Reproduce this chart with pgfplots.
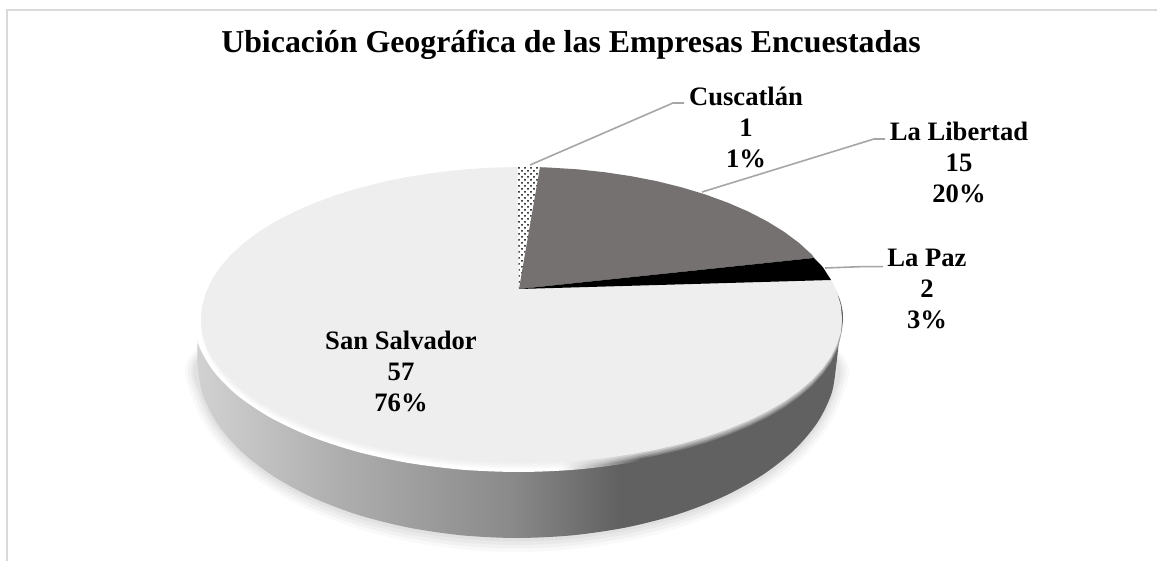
\documentclass[border=0pt]{standalone}
\usepackage{pgfplots}
\usepackage{pgfplotstable}
\usepackage{fontspec}
\setmainfont{Liberation Serif}
\pgfplotsset{compat=1.18}
\usetikzlibrary{patterns}
\pgfdeclarehorizontalshading{sidegrad}{100bp}{color(0bp)=(black!18); color(25bp)=(black!18); color(35.3bp)=(black!31); color(49.5bp)=(black!46); color(57.9bp)=(black!62); color(75bp)=(black!62); color(100bp)=(black!62)}
\pgfdeclarehorizontalshading{ringgrad}{100bp}{color(0bp)=(white); color(53.2bp)=(white); color(59.4bp)=(black!62); color(100bp)=(black!62)}
\definecolor{face}{HTML}{EEEEEE}
\definecolor{lib}{HTML}{767171}
\pgfplotstableread{
x y
198 330
197.5 363
202.4 393.4
216.8 422.9
240.3 450.5
272.3 475.5
311.6 497.1
357.2 514.6
407.7 527.4
461.5 535.3
517 538
572.5 535.3
626.3 527.4
676.8 514.6
722.4 497.1
761.7 475.5
793.7 450.5
817.2 422.9
831.6 393.4
836.5 363
840 330
}\sidetab
\pgfplotstableread{
x y
235 320
197.5 363
202.4 393.4
216.8 422.9
240.3 450.5
272.3 475.5
311.6 497.1
357.2 514.6
407.7 527.4
461.5 535.3
517 538
572.5 535.3
626.3 527.4
676.8 514.6
722.4 497.1
761.7 475.5
793.7 450.5
817.2 422.9
831.6 393.4
836.5 363
800 320
}\shadowtab
\pgfplotstableread{
x y
194 319
198.9 345.6
213.6 371.3
237.5 395.5
269.9 417.3
309.9 436.2
356.2 451.5
407.5 462.8
462.2 469.7
518.5 472
574.8 469.7
629.5 462.8
680.8 451.5
727.1 436.2
767.1 417.3
799.5 395.5
823.4 371.3
838.1 345.6
843 319
840 300
829 278
}\ringtab
\pgfplotstableread{
x y
842 319
840.8 305.7
837.1 292.6
831.1 279.7
822.7 267
812 254.8
799.1 243
784.1 231.8
767 221.3
748.1 211.5
727.5 202.6
705.3 194.5
681.8 187.4
656.9 181.2
631.1 176.2
604.4 172.2
577.1 169.3
549.4 167.6
521.5 167
493.6 167.6
465.9 169.3
438.6 172.2
411.9 176.2
386.1 181.2
361.2 187.4
337.7 194.5
315.5 202.6
294.9 211.5
276 221.3
258.9 231.8
243.9 243
231 254.8
220.3 267
211.9 279.7
205.9 292.6
202.2 305.7
201 319
202.2 331.6
205.9 344
211.9 356.3
220.3 368.2
231 379.9
243.9 391
258.9 401.6
276 411.6
294.9 420.8
315.5 429.3
337.7 437
361.2 443.7
386.1 449.5
411.9 454.3
438.6 458.1
465.9 460.8
493.6 462.5
521.5 463
549.4 462.5
577.1 460.8
604.4 458.1
631.1 454.3
656.9 449.5
681.8 443.7
705.3 437
727.5 429.3
748.1 420.8
767 411.6
784.1 401.6
799.1 391
812 379.9
822.7 368.2
831.1 356.3
837.1 344
840.8 331.6
}\facetab
\pgfplotstableread{
x y
519 289
517.5 167
540 167.2
}\cuscatlan
\pgfplotstableread{
x y
519 289
540 167.2
549.4 167.6
577.1 169.3
604.4 172.2
631.1 176.2
656.9 181.2
681.8 187.4
705.3 194.5
727.5 202.6
748.1 211.5
767 221.3
784.1 231.8
799.1 243
812 254.8
814 258
}\libertad
\pgfplotstableread{
x y
519 289
814 258
822.7 267
831 280
}\lapaz
\begin{document}
\begin{tikzpicture}
\begin{axis}[
  scale only axis, width=578.5pt, height=280.5pt,
  xmin=0, xmax=1157, ymin=0, ymax=561, y dir=reverse,
  hide axis, clip=true]
% page extent
\addplot[draw=none, fill=white] coordinates {(0,0) (1157,0) (1157,561) (0,561)} -- cycle;
% frame
\addplot[draw=black!15, line width=1pt] coordinates {(7,561) (7,10) (1157,10)};
% soft shadow
\addplot[draw=none, fill=black, fill opacity=0.025, smooth] table[x expr=517+(\thisrow{x}-517)*1.035, y expr=363+(\thisrow{y}-363)*1.08] {\shadowtab} -- cycle;
\addplot[draw=none, fill=black, fill opacity=0.03, smooth] table[x expr=517+(\thisrow{x}-517)*1.025, y expr=363+(\thisrow{y}-363)*1.06] {\shadowtab} -- cycle;
\addplot[draw=none, fill=black, fill opacity=0.03, smooth] table[x expr=517+(\thisrow{x}-517)*1.015, y expr=363+(\thisrow{y}-363)*1.04] {\shadowtab} -- cycle;
\addplot[draw=none, fill=black, fill opacity=0.03, smooth] table[x expr=517+(\thisrow{x}-517)*1.008, y expr=363+(\thisrow{y}-363)*1.02] {\shadowtab} -- cycle;
% side wall and rim
\addplot[draw=none, shading=sidegrad, smooth] table {\sidetab} -- cycle;
\addplot[draw=none, shading=ringgrad, smooth] table {\ringtab} -- cycle;
% top face with a soft lower edge
\addplot[draw=none, fill=face, fill opacity=0.2] table[x=x, y expr=\thisrow{y}+6] {\facetab} -- cycle;
\addplot[draw=none, fill=face, fill opacity=0.25] table[x=x, y expr=\thisrow{y}+4.5] {\facetab} -- cycle;
\addplot[draw=none, fill=face, fill opacity=0.3] table[x=x, y expr=\thisrow{y}+3] {\facetab} -- cycle;
\addplot[draw=none, fill=face, fill opacity=0.4] table[x=x, y expr=\thisrow{y}+1.5] {\facetab} -- cycle;
\addplot[draw=none, fill=face] table {\facetab} -- cycle;
\addplot[draw=none, fill=white] table {\cuscatlan} -- cycle;
\addplot[draw=none, pattern=crosshatch dots, pattern color=black] table {\cuscatlan} -- cycle;
\addplot[draw=none, fill=lib] table {\libertad} -- cycle;
\addplot[draw=none, fill=black] table {\lapaz} -- cycle;
% leaders
\addplot[draw=black!35, line width=0.8pt] coordinates {(530,165) (673,103) (684,103)};
\addplot[draw=black!35, line width=0.8pt] coordinates {(702,192) (874,139) (885,139)};
\addplot[draw=black!35, line width=0.8pt] coordinates {(825,268) (860,266.7) (883,266.7)};
% labels
\node[font=\fontsize{15.93}{18}\selectfont\bfseries, anchor=base] at (axis cs:571,53) {Ubicación Geográfica de las Empresas Encuestadas};
\node[font=\fontsize{13.3}{15.5}\selectfont\bfseries, align=center] at (axis cs:746,127) {Cuscatlán\\1\\1\%};
\node[font=\fontsize{13.3}{15.5}\selectfont\bfseries, align=center] at (axis cs:959,162.5) {La Libertad\\15\\20\%};
\node[font=\fontsize{13.3}{15.5}\selectfont\bfseries, align=center] at (axis cs:927,288.5) {La Paz\\2\\3\%};
\node[font=\fontsize{13.3}{15.5}\selectfont\bfseries, align=center] at (axis cs:401,371) {San Salvador\\57\\76\%};
\end{axis}
\end{tikzpicture}
\end{document}
